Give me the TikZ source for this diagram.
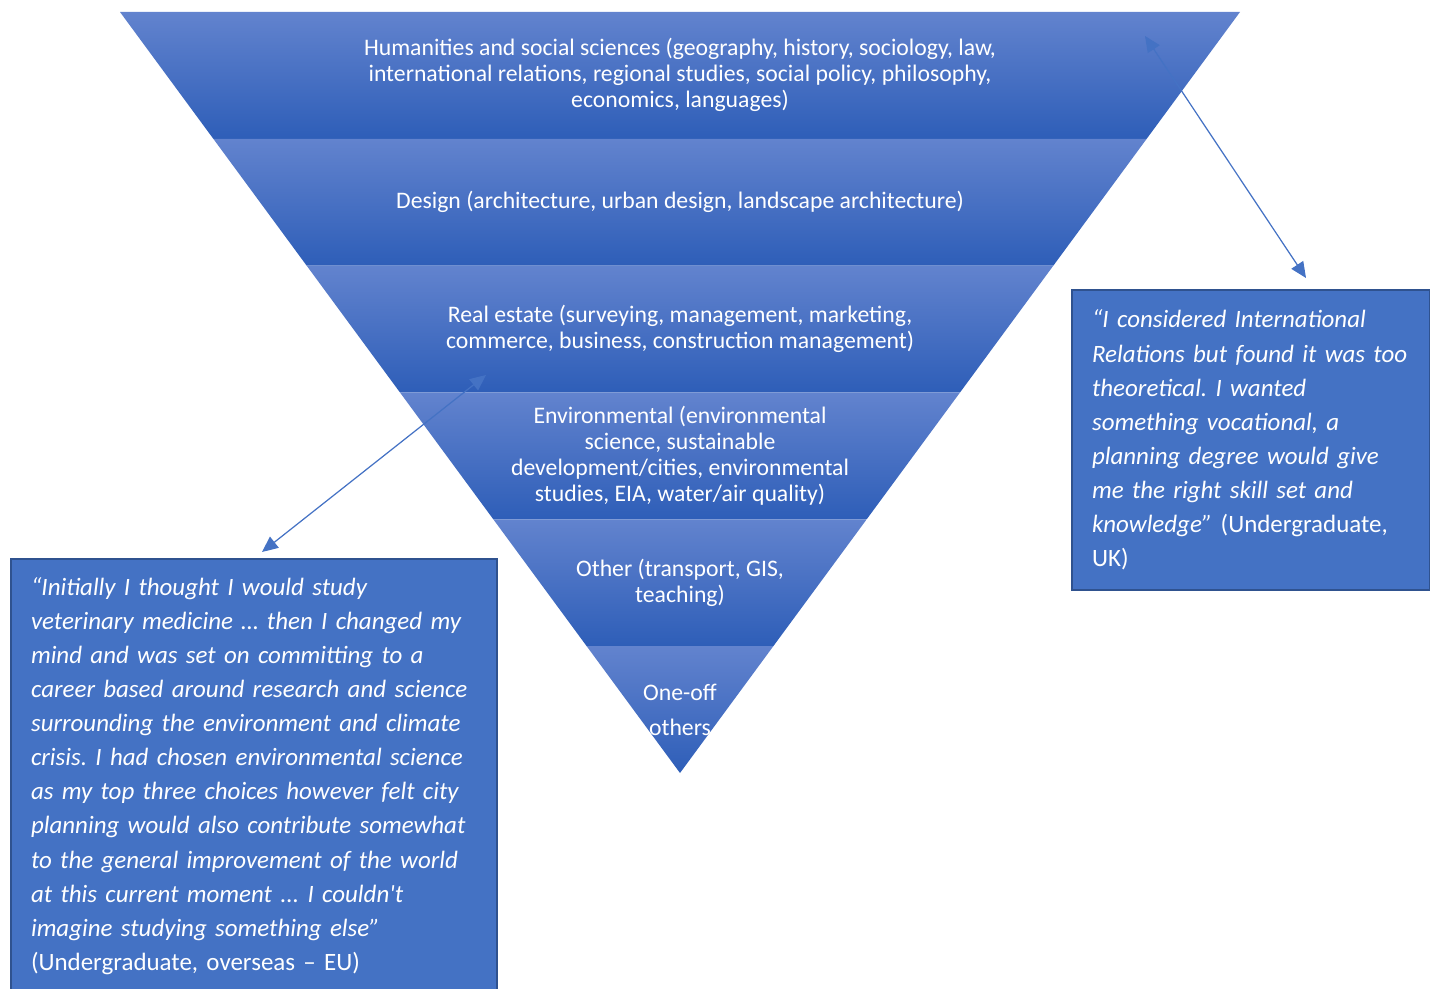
\documentclass[tikz,border=0pt]{standalone}
\usepackage{fontspec}
\setmainfont{Carlito}[Ligatures=TeXOff]
\usetikzlibrary{arrows.meta}
\frenchspacing

\definecolor{bandtop}{RGB}{98,131,206}
\definecolor{bandmid}{RGB}{66,112,200}
\definecolor{bandbot}{RGB}{46,94,184}
\definecolor{boxfill}{RGB}{68,114,196}
\definecolor{boxline}{RGB}{47,82,143}

\begin{document}
\begin{tikzpicture}[x=0.02cm, y=-0.02cm,
            band/.style={top color=bandtop, middle color=bandmid, bottom color=bandbot},
            lvl/.style={text=white, align=center, font=\fontsize{13.5}{14.8}\selectfont},
            quote/.style={draw=boxline, line width=1.2pt, fill=boxfill, text=white,
                          anchor=north west, align=left, inner xsep=0.4cm,
                          font=\fontsize{14.2}{19.4}\selectfont},
            link/.style={{Triangle[length=9pt,width=8pt]}-{Triangle[length=9pt,width=8pt]},
                         draw=boxfill, line width=0.7pt}
        ]
        \useasboundingbox (0,0) rectangle (1430,989);

        % --- inverted triangle, six bands ---
        \foreach \i in {0,...,5}{
            \pgfmathsetmacro\ytop{12+126.833*\i}
            \pgfmathsetmacro\ybot{\ytop+126.833}
            \pgfmathsetmacro\wtop{560-93.333*\i}
            \pgfmathsetmacro\wbot{\wtop-93.333}
            \shade[band] (680-\wtop,\ytop) -- (680+\wtop,\ytop)
                -- (680+\wbot,\ybot) -- (680-\wbot,\ybot) -- cycle;
        }

        \node[lvl] (humanities) at (680,75) {Humanities and social sciences (geography, history, sociology, law,\\
            international relations, regional studies, social policy, philosophy,\\economics, languages)};
        \node[lvl] (design) at (680,202) {Design (architecture, urban design, landscape architecture)};
        \node[lvl] (realestate) at (680,329) {Real estate (surveying, management, marketing,\\
            commerce, business, construction management)};
        \node[lvl] (environ) at (680,456) {Environmental (environmental\\science, sustainable\\
            development/cities, environmental\\studies, EIA, water/air quality)};
        \node[lvl] (other) at (680,583) {Other (transport, GIS,\\teaching)};
        \node[lvl, font=\fontsize{13.5}{19.8}\selectfont] (oneoff) at (680,710) {One-off\\others};

        % --- quotes ---
        \node[quote, minimum width=7.16cm, minimum height=6cm, text width=6.36cm]
            (quoteR) at (1071,289) {\itshape “I considered International\\
            Relations but found it was too\\theoretical. I wanted\\something vocational, a\\
            planning degree would give\\me the right skill set and\\
            knowledge” \upshape(Undergraduate,\\UK)};
        \node[quote, minimum width=9.72cm, minimum height=8.68cm, text width=8.92cm]
            (quoteL) at (10,558) {\itshape “Initially I thought I would study\\
            veterinary medicine … then I changed my\\mind and was set on committing to a\\
            career based around research and science\\surrounding the environment and climate\\
            crisis. I had chosen environmental science\\as my top three choices however felt city\\
            planning would also contribute somewhat\\to the general improvement of the world\\
            at this current moment ... I couldn't\\imagine studying something else”\\
            \upshape(Undergraduate, overseas – EU)};

        % --- links ---
        \coordinate (hsTip) at (1145,36);
        \coordinate (qrTip) at (1306,278);
        \coordinate (reTip) at (486,375);
        \coordinate (qlTip) at (262,552);
        \draw[link] (hsTip) -- (qrTip);
        \draw[link] (reTip) -- (qlTip);
\end{tikzpicture}
\end{document}
